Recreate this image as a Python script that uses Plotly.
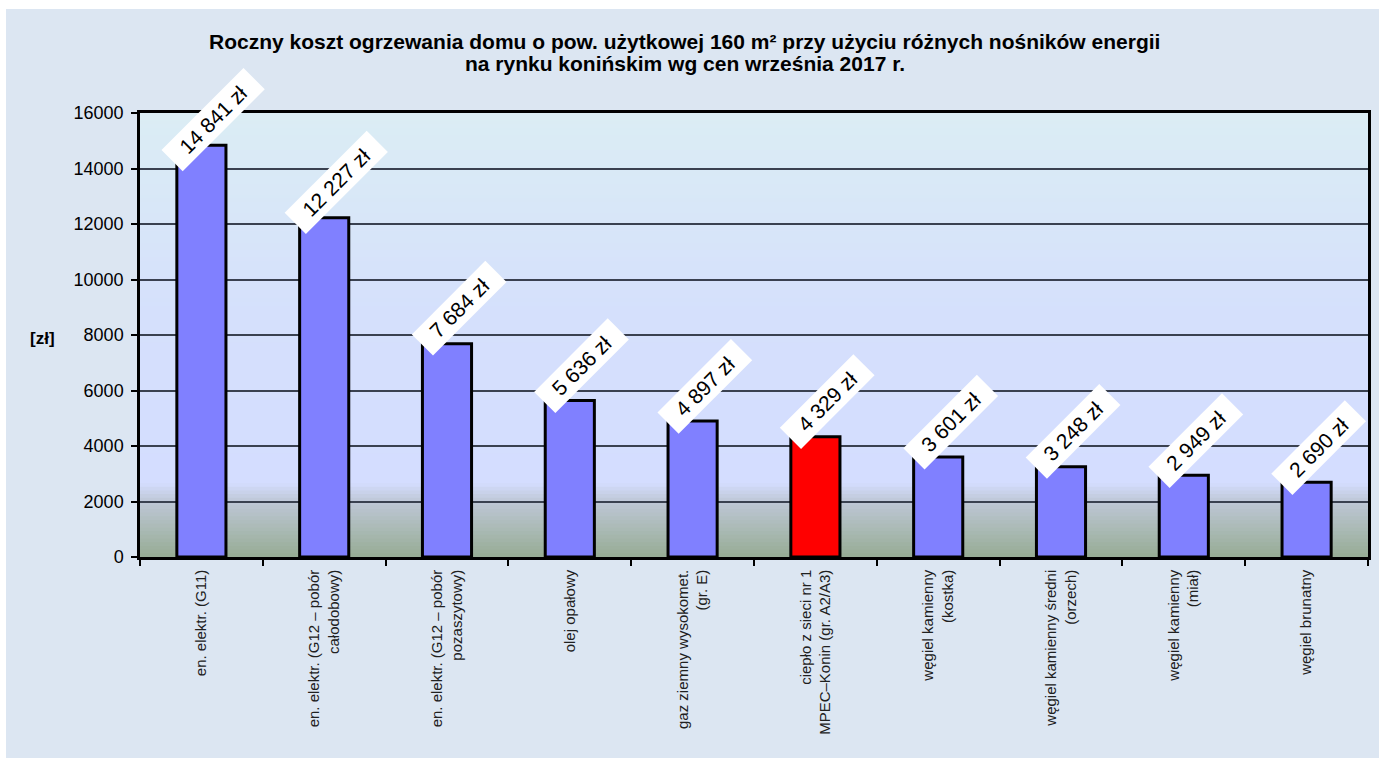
import plotly.graph_objects as go

categories = [
    "en. elektr. (G11)",
    "en. elektr. (G12 – pobór<br>całodobowy)",
    "en. elektr. (G12 – pobór<br>pozaszytowy)",
    "olej opałowy",
    "gaz ziemny wysokomet.<br>(gr. E)",
    "ciepło z sieci nr 1<br>MPEC–Konin (gr. A2/A3)",
    "węgiel kamienny<br>(kostka)",
    "węgiel kamienny średni<br>(orzech)",
    "węgiel kamienny<br>(miał)",
    "węgiel brunatny",
]
values = [14841, 12227, 7684, 5636, 4897, 4329, 3601, 3248, 2949, 2690]
highlight_index = 5
y_ticks = [0, 2000, 4000, 6000, 8000, 10000, 12000, 14000, 16000]
title_lines = [
    "Roczny koszt ogrzewania domu o pow. użytkowej 160 m² przy użyciu różnych nośników energii",
    "na rynku konińskim wg cen września 2017 r.",
]

W, H = 1379, 758
L, R, T, B = 140, 11, 113, 201
PW, PH = W - L - R, H - T - B
YMAX = 16000
FONT = "Liberation Sans, Arial"
OUTER_BG = "#dce6f2"

colors = ["#ff0000" if i == highlight_index else "#8080ff" for i in range(len(values))]

fig = go.Figure(go.Bar(
    x=categories, y=values,
    marker=dict(color=colors, line=dict(color="black", width=3)),
    hoverinfo="skip",
))

# gradient background of plot area (bands)
stops = [
    (0.00, (150, 172, 148)),
    (0.125, (190, 199, 214)),
    (0.167, (212, 221, 255)),
    (0.55, (213, 224, 252)),
    (1.00, (219, 237, 244)),
]

def col_at(f):
    for (f0, c0), (f1, c1) in zip(stops[:-1], stops[1:]):
        if f0 <= f <= f1:
            t = (f - f0) / (f1 - f0) if f1 > f0 else 0
            return "rgb(%d,%d,%d)" % tuple(round(a + (b - a) * t) for a, b in zip(c0, c1))
    return "rgb(%d,%d,%d)" % stops[-1][1]

def px_x(px):
    return (px - L) / PW

def px_y(py):
    return (H - B - py) / PH

shapes = []
# white outer strips (top and left)
shapes.append(dict(type="rect", xref="paper", yref="paper",
                   x0=px_x(-5), x1=px_x(W + 5), y0=px_y(9), y1=px_y(-5),
                   fillcolor="white", line=dict(width=0), layer="below"))
shapes.append(dict(type="rect", xref="paper", yref="paper",
                   x0=px_x(-5), x1=px_x(6), y0=px_y(H + 5), y1=px_y(-5),
                   fillcolor="white", line=dict(width=0), layer="below"))
N = 120
for i in range(N):
    f0 = i / N
    f1 = (i + 1) / N
    shapes.append(dict(type="rect", xref="x domain", yref="y domain",
                       x0=0, x1=1, y0=f0, y1=min(1, f1 + 0.004),
                       fillcolor=col_at((f0 + f1) / 2), line=dict(width=0), layer="below"))

annotations = []
for c, v in zip(categories, values):
    py = T + (1 - v / YMAX) * PH
    ys = min(35, py - 71 - 49)
    label = "\u00a0\u00a0" + f"{v:,}".replace(",", " ") + " zł\u00a0\u00a0"
    annotations.append(dict(
        x=c, y=v, xref="x", yref="y", text=label, showarrow=False,
        textangle=-45, xanchor="center", yanchor="middle",
        xshift=12, yshift=ys, bgcolor="white", borderpad=3,
        font=dict(family=FONT, size=21, color="black"),
    ))

annotations.append(dict(
    x=px_x(42), y=px_y(338), xref="paper", yref="paper",
    text="<b>[zł]</b>", showarrow=False, xanchor="center", yanchor="middle",
    font=dict(family=FONT, size=17, color="black"),
))

for line, cy in zip(title_lines, [41, 63]):
    annotations.append(dict(
        x=px_x(684.5), y=px_y(cy), xref="paper", yref="paper",
        text="<b>" + line + "</b>", showarrow=False,
        xanchor="center", yanchor="middle",
        font=dict(family=FONT, size=21, color="black"),
    ))

fig.update_layout(
    width=W, height=H,
    margin=dict(l=L, r=R, t=T, b=B, autoexpand=False),
    paper_bgcolor=OUTER_BG,
    plot_bgcolor="#d5defc",
    showlegend=False,
    bargap=0.6,
    shapes=shapes,
    annotations=annotations,
    font=dict(family=FONT, color="black"),
)

fig.update_yaxes(
    range=[0, YMAX], tickvals=y_ticks, tickformat="d",
    ticks="outside", ticklen=6, tickwidth=1.5, tickcolor="black",
    showline=True, linecolor="black", linewidth=2.5, mirror=True,
    showgrid=True, gridcolor="#3a4150", gridwidth=1.5,
    zeroline=False, automargin=False, ticklabelstandoff=4,
    tickfont=dict(size=18, color="black"),
)
fig.update_xaxes(
    tickangle=-90, ticks="outside", tickson="boundaries", ticklen=6,
    tickwidth=1.5, tickcolor="black",
    showline=True, linecolor="black", linewidth=2.5, mirror=True,
    automargin=False, ticklabelstandoff=4,
    tickfont=dict(size=15, color="#202020"),
)

fig.write_html(
    "out.html",
    config={"displayModeBar": False},
    post_script=(
        "document.body.style.margin='0';"
        "document.body.style.overflow='hidden';"
        "document.body.style.background='" + OUTER_BG + "';"
        "document.documentElement.style.background='" + OUTER_BG + "';"
    ),
)
